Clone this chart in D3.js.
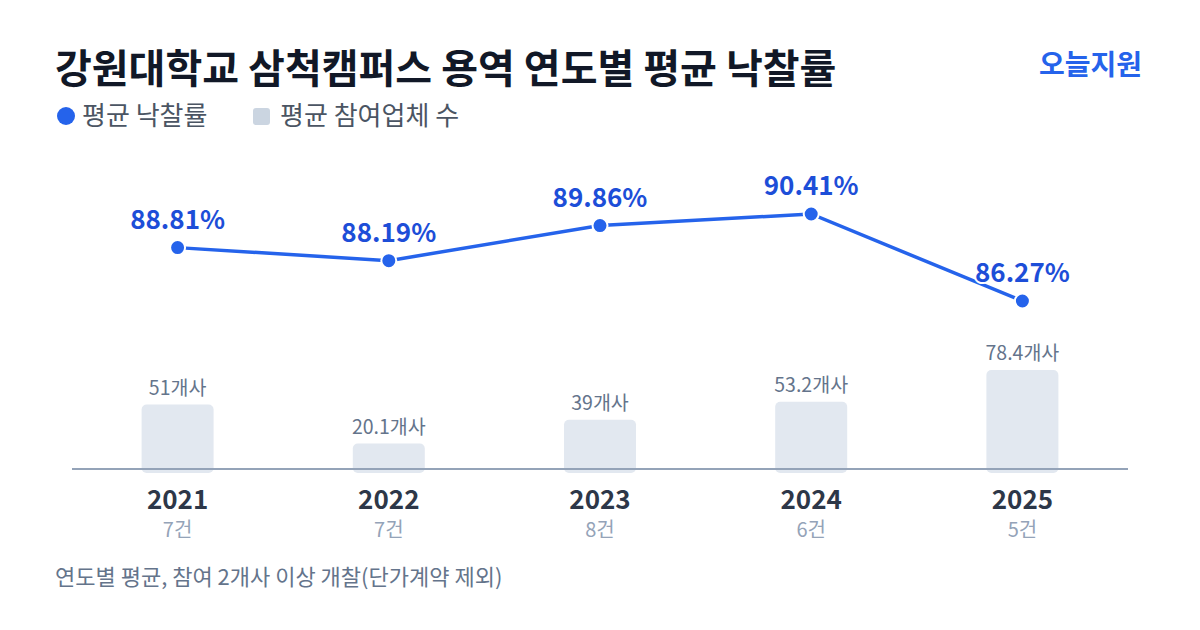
<!DOCTYPE html>
<html>
<head>
<meta charset="utf-8">
<script src="https://cdn.jsdelivr.net/npm/d3@7"></script>
<style>
  body { margin: 0; background: #fff; }
  svg { display: block; font-family: "Noto Sans CJK KR", "Noto Sans", sans-serif; }
</style>
</head>
<body>
<div id="chart"></div>
<script>
// data
const years = ["2021", "2022", "2023", "2024", "2025"];
const rates = [88.81, 88.19, 89.86, 90.41, 86.27];
const bidders = [51, 20.1, 39, 53.2, 78.4];
const counts = [7, 7, 8, 6, 5];

const WIDTH = 1200, HEIGHT = 630;
const BASE = 469;

const svg = d3.select("#chart")
  .append("svg")
    .attr("width", WIDTH)
    .attr("height", HEIGHT);

// title + brand
svg.append("text")
  .attr("x", 55).attr("y", 83)
  .attr("font-size", 40).attr("font-weight", 700)
  .attr("fill", "#111827")
  .text("강원대학교 삼척캠퍼스 용역 연도별 평균 낙찰률");

svg.append("text")
  .attr("x", 1142).attr("y", 75)
  .attr("text-anchor", "end")
  .attr("font-size", 28).attr("font-weight", 700)
  .attr("fill", "#2563eb")
  .text("오늘지원");

// legend
svg.append("circle").attr("cx", 66).attr("cy", 116).attr("r", 9).attr("fill", "#2563eb");
svg.append("text").attr("x", 82).attr("y", 125)
  .attr("font-size", 26).attr("fill", "#4b5563").text("평균 낙찰률");
svg.append("rect").attr("x", 253).attr("y", 108).attr("width", 17).attr("height", 17)
  .attr("rx", 3).attr("fill", "#cbd5e1");
svg.append("text").attr("x", 280).attr("y", 125)
  .attr("font-size", 26).attr("fill", "#4b5563").text("평균 참여업체 수");

// scales
const x = d3.scaleBand()
  .domain(years)
  .range([72, 1128]);

const yBar = d3.scaleLinear()
  .domain([0, 78.4])
  .range([BASE, 370]);

const yLine = d3.scaleLinear()
  .domain([86.27, 90.41])
  .range([301, 214]);

const cx = (d) => x(d) + x.bandwidth() / 2;

// bars
const barW = 72;
svg.selectAll(".bar")
  .data(years)
  .join("rect")
    .attr("class", "bar")
    .attr("x", (d) => cx(d) - barW / 2)
    .attr("y", (d, i) => yBar(bidders[i]))
    .attr("width", barW)
    .attr("height", (d, i) => BASE - yBar(bidders[i]) + 4)
    .attr("rx", 5)
    .attr("fill", "#e2e8f0");

svg.selectAll(".barlabel")
  .data(years)
  .join("text")
    .attr("class", "barlabel")
    .attr("x", (d) => cx(d))
    .attr("y", (d, i) => yBar(bidders[i]) - 10)
    .attr("text-anchor", "middle")
    .attr("font-size", 19.5)
    .attr("fill", "#64748b")
    .text((d, i) => bidders[i] + "개사");

// baseline axis
svg.append("line")
  .attr("x1", 72).attr("x2", 1128)
  .attr("y1", BASE).attr("y2", BASE)
  .attr("stroke", "#94a3b8").attr("stroke-width", 2);

// year + count labels
svg.selectAll(".year")
  .data(years)
  .join("text")
    .attr("class", "year")
    .attr("x", (d) => cx(d))
    .attr("y", 509)
    .attr("text-anchor", "middle")
    .attr("font-size", 26).attr("font-weight", 700)
    .attr("fill", "#2d3748")
    .text((d) => d);

svg.selectAll(".count")
  .data(years)
  .join("text")
    .attr("class", "count")
    .attr("x", (d) => cx(d))
    .attr("y", 537)
    .attr("text-anchor", "middle")
    .attr("font-size", 20)
    .attr("fill", "#94a3b8")
    .text((d, i) => counts[i] + "건");

// line
const line = d3.line()
  .x((d) => cx(d))
  .y((d, i) => yLine(rates[i]));

svg.append("path")
  .datum(years)
  .attr("d", line)
  .attr("fill", "none")
  .attr("stroke", "#2563eb")
  .attr("stroke-width", 3.5);

svg.selectAll(".dot")
  .data(years)
  .join("circle")
    .attr("class", "dot")
    .attr("cx", (d) => cx(d))
    .attr("cy", (d, i) => yLine(rates[i]))
    .attr("r", 7.5)
    .attr("fill", "#2563eb")
    .attr("stroke", "#fff")
    .attr("stroke-width", 2);

svg.selectAll(".ratelabel")
  .data(years)
  .join("text")
    .attr("class", "ratelabel")
    .attr("x", (d) => cx(d))
    .attr("y", (d, i) => yLine(rates[i]) - 19)
    .attr("text-anchor", "middle")
    .attr("font-size", 26).attr("font-weight", 700)
    .attr("fill", "#1d4ed8")
    .attr("stroke", "#fff").attr("stroke-width", 4)
    .attr("paint-order", "stroke")
    .text((d, i) => rates[i].toFixed(2) + "%");

// footnote
svg.append("text")
  .attr("x", 55).attr("y", 585)
  .attr("font-size", 22)
  .attr("fill", "#64748b")
  .text("연도별 평균, 참여 2개사 이상 개찰(단가계약 제외)");
</script>
</body>
</html>
